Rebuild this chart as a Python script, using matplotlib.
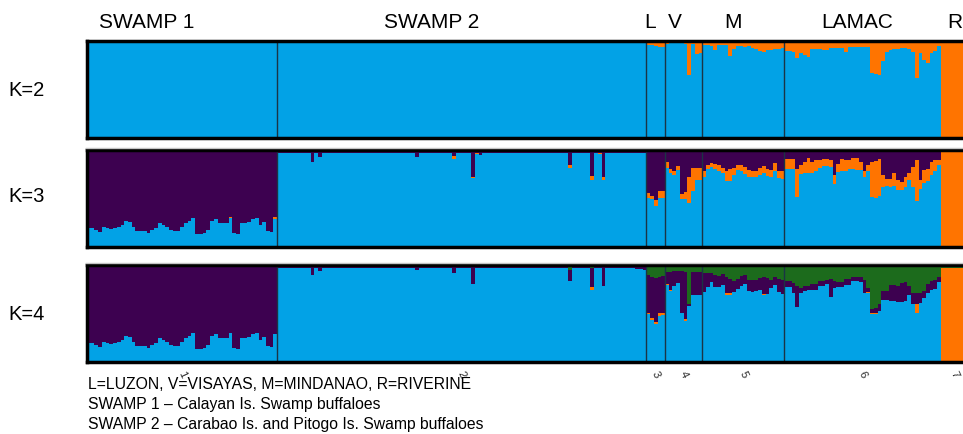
import numpy as np
import matplotlib.pyplot as plt
from matplotlib.lines import Line2D

plt.rcParams['font.family'] = ['Liberation Sans', 'DejaVu Sans']

BLUE = '#02a2e6'
ORANGE = '#ff7400'
PURPLE = '#3d0150'
GREEN = '#1c6b1c'
SEP = '#1b3445'

group_names = ["SWAMP 1", "SWAMP 2", "L", "V", "M", "LAMAC", "R"]
group_ids = ["1", "2", "3", "4", "5", "6", "7"]
group_sizes = [51, 99, 5, 10, 22, 42, 7]

notes = ["L=LUZON, V=VISAYAS, M=MINDANAO, R=RIVERINE",
         "SWAMP 1 \u2013 Calayan Is. Swamp buffaloes",
         "SWAMP 2 \u2013 Carabao Is. and Pitogo Is. Swamp buffaloes"]

# ---- SWAMP 1 : light blue share (same shape at K=3 and K=4), rest purple
s1_blue = np.array([
    0.20, 0.20, 0.18, 0.15, 0.21, 0.20, 0.19, 0.20, 0.21, 0.23,
    0.27, 0.26, 0.21, 0.17, 0.17, 0.16, 0.14, 0.18, 0.20, 0.25,
    0.23, 0.21, 0.18, 0.17, 0.17, 0.21, 0.25, 0.27, 0.30, 0.13,
    0.13, 0.14, 0.18, 0.27, 0.29, 0.25, 0.25, 0.25, 0.30, 0.14,
    0.13, 0.25, 0.25, 0.26, 0.29, 0.30, 0.23, 0.26, 0.16, 0.15,
    0.29])
s1_k2_orange = np.full(51, 0.01)
s1_k2_orange[[37, 38, 50]] = [0.03, 0.03, 0.03]
s1_k3_orange = np.zeros(51)
s1_k3_orange[[38, 50]] = [0.01, 0.015]
s1_k4_green = np.zeros(51)
s1_k4_green[[39, 50]] = [0.01, 0.01]

# ---- SWAMP 2 : mostly light blue with a few admixed animals
s2_k2_orange = np.full(99, 0.01)
s2_k2_orange[[20, 45, 60, 88]] = 0.02
s2_k3_purple = np.full(99, 0.03)
s2_k3_purple[[9, 11, 37, 47, 52, 54, 78, 84, 87]] = [0.12, 0.07, 0.07, 0.06, 0.28, 0.05, 0.15, 0.27, 0.28]
s2_k3_orange = np.zeros(99)
s2_k3_orange[[47, 52, 53, 78, 84, 86, 87]] = [0.03, 0.01, 0.01, 0.04, 0.04, 0.01, 0.03]
s2_k4_purple = np.full(99, 0.02)
s2_k4_purple[[9, 11, 37, 47, 52, 78, 84, 87, 98]] = [0.09, 0.05, 0.04, 0.07, 0.18, 0.11, 0.20, 0.21, 0.03]
s2_k4_orange = np.zeros(99)
s2_k4_orange[[84]] = 0.03
s2_k4_green = np.full(99, 0.01)
s2_k4_green[[52, 78, 84, 96, 97, 98]] = [0.02, 0.05, 0.03, 0.02, 0.02, 0.02]

# ---- K=2 orange share, groups L, V, M, LAMAC, R
k2_orange_rest = (
    [0.05, 0.05, 0.06, 0.07, 0.07]
    + [0.04, 0.03, 0.03, 0.03, 0.03, 0.04, 0.36, 0.04, 0.14, 0.13]
    + [0.05, 0.05, 0.06, 0.10, 0.05, 0.05, 0.05, 0.16, 0.09, 0.06, 0.06,
       0.07, 0.06, 0.08, 0.09, 0.11, 0.12, 0.10, 0.10, 0.09, 0.09, 0.08]
    + [0.11, 0.11, 0.12, 0.18, 0.13, 0.15, 0.17, 0.09, 0.09, 0.09, 0.10,
       0.10, 0.08, 0.08, 0.08, 0.08, 0.12, 0.07, 0.07, 0.07, 0.07, 0.07,
       0.07, 0.34, 0.35, 0.36, 0.21, 0.12, 0.10, 0.09, 0.09, 0.08, 0.08,
       0.09, 0.12, 0.39, 0.13, 0.20, 0.23, 0.13, 0.11, 0.06]
    + [1.0] * 7)

# ---- K=3 purple / orange shares, groups L, V, M, LAMAC, R
k3_purple_rest = (
    [0.44, 0.47, 0.52, 0.42, 0.42]
    + [0.12, 0.20, 0.22, 0.16, 0.45, 0.43, 0.28, 0.19, 0.19, 0.19]
    + [0.22, 0.15, 0.13, 0.14, 0.15, 0.19, 0.22, 0.20, 0.19, 0.15, 0.15,
       0.18, 0.21, 0.22, 0.22, 0.19, 0.16, 0.20, 0.21, 0.13, 0.22, 0.22]
    + [0.09, 0.09, 0.09, 0.20, 0.15, 0.12, 0.08, 0.12, 0.10, 0.10, 0.09,
       0.09, 0.10, 0.26, 0.14, 0.09, 0.10, 0.10, 0.08, 0.08, 0.12, 0.22,
       0.15, 0.12, 0.11, 0.09, 0.26, 0.30, 0.30, 0.24, 0.31, 0.33, 0.28,
       0.24, 0.18, 0.10, 0.31, 0.21, 0.20, 0.12, 0.10, 0.10]
    + [0.0] * 7)
k3_orange_rest = (
    [0.05, 0.04, 0.06, 0.07, 0.07]
    + [0.07, 0.04, 0.04, 0.05, 0.05, 0.08, 0.27, 0.23, 0.12, 0.12]
    + [0.06, 0.05, 0.05, 0.06, 0.07, 0.05, 0.10, 0.12, 0.07, 0.06, 0.07,
       0.07, 0.07, 0.06, 0.06, 0.07, 0.08, 0.07, 0.07, 0.09, 0.07, 0.08]
    + [0.11, 0.11, 0.11, 0.28, 0.10, 0.12, 0.16, 0.12, 0.12, 0.09, 0.08,
       0.08, 0.08, 0.09, 0.09, 0.13, 0.12, 0.10, 0.12, 0.13, 0.09, 0.06,
       0.07, 0.36, 0.38, 0.38, 0.12, 0.07, 0.08, 0.13, 0.10, 0.08, 0.10,
       0.07, 0.20, 0.43, 0.09, 0.13, 0.12, 0.14, 0.12, 0.05]
    + [1.0] * 7)

# ---- K=4 green / purple / orange shares, groups L, V, M, LAMAC, R
k4_green_rest = (
    [0.10, 0.12, 0.13, 0.12, 0.11]
    + [0.07, 0.07, 0.06, 0.06, 0.06, 0.07, 0.40, 0.07, 0.07, 0.07]
    + [0.08, 0.08, 0.08, 0.10, 0.11, 0.09, 0.12, 0.14, 0.16, 0.14, 0.11,
       0.10, 0.15, 0.15, 0.15, 0.13, 0.12, 0.13, 0.15, 0.12, 0.14, 0.15]
    + [0.17, 0.17, 0.19, 0.22, 0.24, 0.22, 0.22, 0.20, 0.20, 0.17, 0.17,
       0.15, 0.14, 0.17, 0.18, 0.18, 0.14, 0.14, 0.12, 0.12, 0.12, 0.15,
       0.24, 0.45, 0.44, 0.40, 0.27, 0.27, 0.21, 0.21, 0.22, 0.19, 0.18,
       0.22, 0.29, 0.29, 0.29, 0.27, 0.20, 0.16, 0.15, 0.12]
    + [0.03] * 7)
k4_purple_rest = (
    [0.39, 0.43, 0.46, 0.37, 0.38]
    + [0.13, 0.19, 0.16, 0.13, 0.43, 0.49, 0.02, 0.24, 0.24, 0.24]
    + [0.20, 0.15, 0.10, 0.13, 0.12, 0.12, 0.17, 0.15, 0.12, 0.11, 0.11,
       0.10, 0.12, 0.13, 0.12, 0.13, 0.18, 0.17, 0.09, 0.09, 0.14, 0.15]
    + [0.06, 0.06, 0.10, 0.21, 0.05, 0.05, 0.04, 0.06, 0.06, 0.05, 0.05,
       0.05, 0.19, 0.07, 0.05, 0.05, 0.07, 0.07, 0.05, 0.04, 0.06, 0.14,
       0.04, 0.04, 0.05, 0.07, 0.09, 0.09, 0.16, 0.16, 0.16, 0.19, 0.19,
       0.09, 0.11, 0.11, 0.10, 0.07, 0.09, 0.10, 0.10, 0.06]
    + [0.0] * 7)
k4_orange_rest = (
    [0.02, 0.02, 0.02, 0.04, 0.03]
    + [0.01, 0.01, 0.0, 0.0, 0.0, 0.02, 0.0, 0.0, 0.0, 0.0]
    + [0.0] * 6 + [0.02, 0.02] + [0.0] * 8 + [0.01] + [0.0] * 5
    + [0.0] * 22 + [0.01, 0.01, 0.01] + [0.0] * 10 + [0.09] + [0.0] * 6
    + [0.96] * 7)


def build_panels():
    k2_orange = np.concatenate([s1_k2_orange, s2_k2_orange, k2_orange_rest])
    k2 = [(1 - k2_orange, BLUE), (k2_orange, ORANGE)]

    s1_k3_purple = 1 - s1_blue - s1_k3_orange
    k3_orange = np.concatenate([s1_k3_orange, s2_k3_orange, k3_orange_rest])
    k3_purple = np.concatenate([s1_k3_purple, s2_k3_purple, k3_purple_rest])
    k3 = [(1 - k3_orange - k3_purple, BLUE), (k3_orange, ORANGE), (k3_purple, PURPLE)]

    s1_k4_purple = 1 - s1_blue - s1_k4_green
    k4_green = np.concatenate([s1_k4_green, s2_k4_green, k4_green_rest])
    k4_purple = np.concatenate([s1_k4_purple, s2_k4_purple, k4_purple_rest])
    k4_orange = np.concatenate([np.zeros(51), s2_k4_orange, k4_orange_rest])
    k4 = [(1 - k4_green - k4_purple - k4_orange, BLUE), (k4_orange, ORANGE),
          (k4_purple, PURPLE), (k4_green, GREEN)]
    return [("K=2", k2), ("K=3", k3), ("K=4", k4)]


W, H = 963, 435
fig = plt.figure(figsize=(W / 100, H / 100), dpi=100)

n_total = sum(group_sizes)
bounds = np.cumsum(group_sizes)
centers = bounds - np.array(group_sizes) / 2

left_px, right_px = 87, 967
panel_y = [(41.5, 138.5, 90), (151, 248, 197), (266, 363, 315)]

for (label, layers), (top, bot, ylab) in zip(build_panels(), panel_y):
    ax = fig.add_axes([left_px / W, 1 - bot / H, (right_px - left_px) / W, (bot - top) / H])
    x = np.arange(n_total)
    bottom = np.zeros(n_total)
    for vals, color in layers:
        vals = np.clip(vals, 0, 1)
        ax.bar(x, vals, width=1.0, bottom=bottom, color=color, align='edge',
               linewidth=0, antialiased=False)
        bottom = bottom + vals
    for b in bounds[:5]:
        ax.axvline(b, color=SEP, lw=1.0)
    ax.set_xlim(0, n_total)
    ax.set_ylim(0, 1)
    for s in ax.spines.values():
        s.set_linewidth(2.5)
        s.set_color('black')
    ax.set_yticks([])
    if label == "K=4":
        ax.set_xticks(centers)
        ax.set_xticklabels(group_ids, rotation=-65, fontsize=8, color='#2a2a2a')
        ax.tick_params(axis='x', length=0, pad=5)
    else:
        ax.set_xticks([])
    fig.text(8 / W, 1 - ylab / H, label, fontsize=14.5, ha='left', va='center')

# faint rules above the lower two panels
for yy in (149, 264):
    fig.add_artist(Line2D([86 / W, 1], [1 - yy / H] * 2, color='#c4c4c4', lw=1))

# population names above the top panel
name_x = [147, 432, 650, 675, 733, 857, 955]
for name, nx in zip(group_names, name_x):
    fig.text(nx / W, 1 - 22 / H, name, fontsize=15, ha='center', va='center')

for i, line in enumerate(notes):
    fig.text(88 / W, 1 - (385 + 20 * i) / H, line, fontsize=11.3, ha='left', va='center')

fig.savefig("out.png", dpi=100)
